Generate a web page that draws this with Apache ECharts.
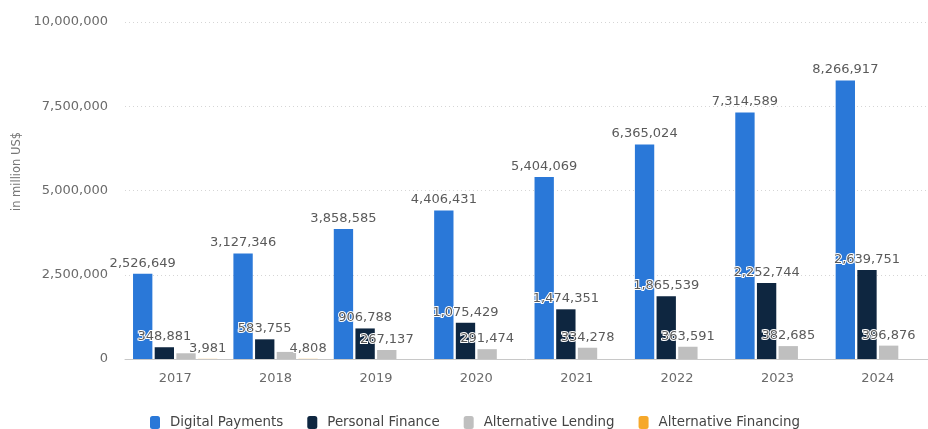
<!DOCTYPE html>
<html>
<head>
<meta charset="utf-8">
<script src="https://cdn.jsdelivr.net/npm/echarts@6/dist/echarts.min.js"></script>
<style>
html,body{margin:0;padding:0;background:#fff;}
#c{width:928px;height:429px;}
</style>
</head>
<body>
<div id="c"></div>
<script>
const categories = ['2017','2018','2019','2020','2021','2022','2023','2024'];
const digitalPayments = [2526649, 3127346, 3858585, 4406431, 5404069, 6365024, 7314589, 8266917];
const personalFinance = [348881, 583755, 906788, 1075429, 1474351, 1865539, 2252744, 2639751];
const alternativeLending = [170000, 210000, 267137, 291474, 334278, 363591, 382685, 396876];
const alternativeFinancing = [3981, 4808, null, null, null, null, null, null];
const hiddenLendingLabels = [0, 1];
const yTicks = [0, 2500000, 5000000, 7500000, 10000000];

const FONT = 'DejaVu Sans';
const fmt = v => Number(v).toLocaleString('en-US');

function labelCfg() {
  return {
    show: true,
    position: 'top',
    distance: 4,
    fontFamily: FONT,
    fontSize: 13,
    color: '#5a5a5a',
    textBorderColor: '#ffffff',
    textBorderWidth: 2,
    formatter: p => p.value == null ? '' : fmt(p.value)
  };
}

const lendingData = alternativeLending.map((v, i) =>
  hiddenLendingLabels.includes(i) ? { value: v, label: { show: false } } : v);

const chart = echarts.init(document.getElementById('c'), null, { renderer: 'canvas' });
chart.setOption({
  animation: false,
  backgroundColor: '#ffffff',
  textStyle: { fontFamily: FONT },
  grid: { left: 125, right: -10, top: 22, bottom: 70, containLabel: false },
  legend: {
    left: 145,
    top: 411,
    itemWidth: 10,
    itemHeight: 13,
    itemGap: 24,
    icon: 'roundRect',
    textStyle: { fontFamily: FONT, fontSize: 13.4, color: '#444', padding: [0, 0, 0, 5] },
    data: ['Digital Payments', 'Personal Finance', 'Alternative Lending', 'Alternative Financing']
  },
  xAxis: {
    type: 'category',
    data: categories,
    axisTick: { show: false },
    axisLine: { show: true, lineStyle: { color: '#c8c8c8', width: 1 } },
    axisLabel: { fontFamily: FONT, fontSize: 13, color: '#6a6a6a', margin: 13 }
  },
  yAxis: {
    type: 'value',
    min: yTicks[0],
    max: yTicks[yTicks.length - 1],
    interval: yTicks[1] - yTicks[0],
    name: 'in million US$',
    nameLocation: 'middle',
    nameGap: 100,
    nameRotate: 90,
    nameTextStyle: { fontFamily: FONT, fontSize: 11.5, color: '#777', padding: [0, 0, 0, 38] },
    axisLine: { show: false },
    axisTick: { show: false },
    axisLabel: { fontFamily: FONT, fontSize: 13, color: '#6a6a6a', margin: 17, formatter: v => fmt(v) },
    splitLine: { show: true, lineStyle: { color: '#d6d6d6', type: [1, 3], width: 1 } }
  },
  series: [
    { name: 'Digital Payments', type: 'bar', data: digitalPayments, itemStyle: { color: '#2a78d8' },
      barGap: '12%', barCategoryGap: '16%', label: labelCfg() },
    { name: 'Personal Finance', type: 'bar', data: personalFinance, itemStyle: { color: '#0e2640' },
      label: labelCfg() },
    { name: 'Alternative Lending', type: 'bar', data: lendingData, itemStyle: { color: '#bfbfbf' },
      label: labelCfg() },
    { name: 'Alternative Financing', type: 'bar', data: alternativeFinancing, itemStyle: { color: '#f6a82a' },
      label: labelCfg() }
  ]
});
</script>
</body>
</html>
